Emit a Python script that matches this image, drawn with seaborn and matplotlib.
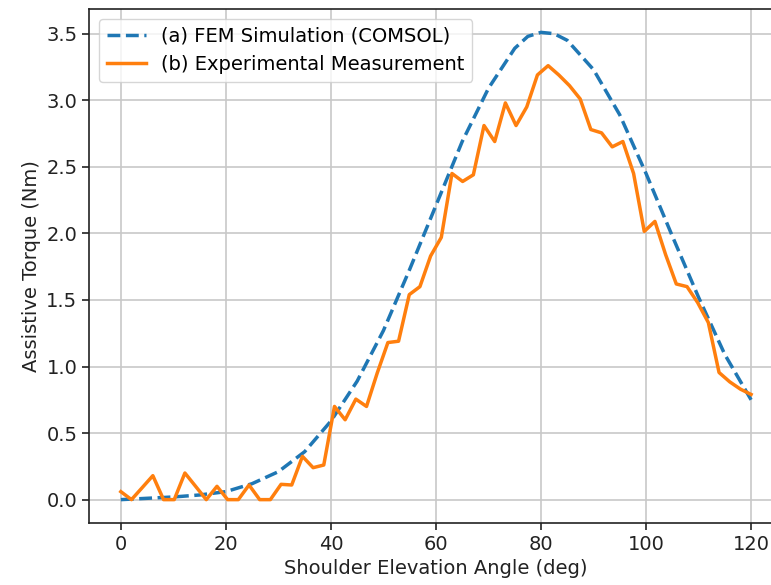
import matplotlib
matplotlib.use("Agg")
import matplotlib.pyplot as plt
import seaborn as sns
import pandas as pd

# FEM simulation curve
fem_angle = [0, 5, 10, 15, 20, 25, 30, 35, 40, 45, 50, 55, 60, 65, 70, 75,
             77.5, 80, 82.5, 85, 90, 95, 100, 105, 110, 115, 120]
fem_torque = [0.0, 0.01, 0.02, 0.035, 0.06, 0.12, 0.21, 0.36, 0.59, 0.89, 1.27,
              1.73, 2.21, 2.69, 3.09, 3.39, 3.48, 3.51, 3.50, 3.45, 3.23, 2.89,
              2.45, 1.98, 1.52, 1.09, 0.75]

exp_angle = [0.0, 2.03, 4.07, 6.1, 8.14, 10.17, 12.2, 14.24, 16.27, 18.31,
             20.34, 22.37, 24.41, 26.44, 28.47, 30.51, 32.54, 34.58, 36.61, 38.64,
             40.68, 42.71, 44.75, 46.78, 48.81, 50.85, 52.88, 54.92, 56.95, 58.98,
             61.02, 63.05, 65.08, 67.12, 69.15, 71.19, 73.22, 75.25, 77.29, 79.32,
             81.36, 83.39, 85.42, 87.46, 89.49, 91.53, 93.56, 95.59, 97.63, 99.66,
             101.69, 103.73, 105.76, 107.8, 109.83, 111.86, 113.9, 115.93, 117.97, 120.0]
exp_torque = [0.06, 0.0, 0.09, 0.18, 0.0, 0.0, 0.2, 0.1, 0.0, 0.1,
              0.0, 0.0, 0.11, 0.0, 0.0, 0.115, 0.11, 0.325, 0.24, 0.26,
              0.70, 0.60, 0.755, 0.70, 0.95, 1.18, 1.19, 1.54, 1.60, 1.83,
              1.97, 2.45, 2.39, 2.44, 2.81, 2.69, 2.98, 2.81, 2.95, 3.19,
              3.26, 3.19, 3.11, 3.01, 2.78, 2.755, 2.65, 2.69, 2.45, 2.015,
              2.09, 1.84, 1.62, 1.60, 1.48, 1.33, 0.955, 0.885, 0.83, 0.79]

fem_label = "(a) FEM Simulation (COMSOL)"
exp_label = "(b) Experimental Measurement"
x_label = "Shoulder Elevation Angle (deg)"
y_label = "Assistive Torque (Nm)"

plt.rcParams['font.family'] = ['DejaVu Sans']

fig = plt.figure(figsize=(7.71, 5.85), dpi=100)
ax = fig.add_axes([89.3 / 771, 1 - 523 / 585, (782.6 - 89.3) / 771, (523 - 9) / 585])

fem_df = pd.DataFrame({"angle": fem_angle, "torque": fem_torque})
exp_df = pd.DataFrame({"angle": exp_angle, "torque": exp_torque})

sns.lineplot(data=fem_df, x="angle", y="torque", ax=ax, color="#1f77b4",
             linestyle="--", linewidth=2.5, label=fem_label)
sns.lineplot(data=exp_df, x="angle", y="torque", ax=ax, color="#ff7f0e",
             linewidth=2.5, label=exp_label)

ax.set_xticks([0, 20, 40, 60, 80, 100, 120])
ax.set_yticks([0.0, 0.5, 1.0, 1.5, 2.0, 2.5, 3.0, 3.5])
ax.margins(x=0.05, y=0.05)
ax.grid(True, color="#c8c8c8", linewidth=1.2)
ax.set_axisbelow(True)
for sp in ax.spines.values():
    sp.set_linewidth(1.2)
    sp.set_color("#222222")
ax.spines["right"].set_visible(False)
ax.tick_params(axis="both", labelsize=14, length=5, width=1.2, colors="#222222")
ax.set_xlabel(x_label, fontsize=14, color="#222222")
ax.set_ylabel(y_label, fontsize=14, color="#222222")
ax.legend(loc="upper left", fontsize=14)

fig.savefig("out.png", dpi=100)
